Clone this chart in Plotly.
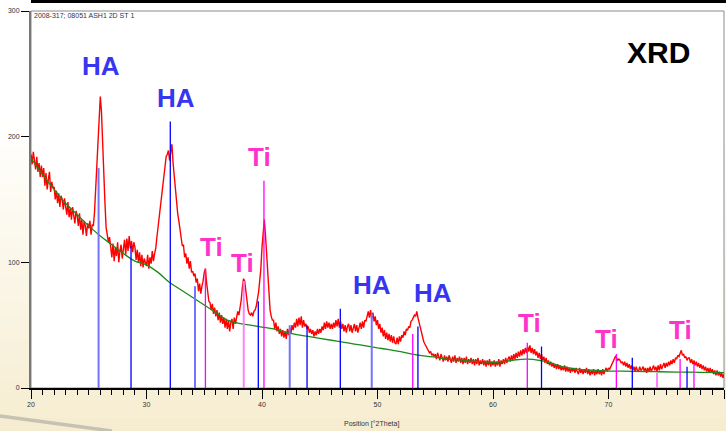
import plotly.graph_objects as go

# ---------------- data ----------------
scan_start = 20.0
scan_step = 0.1
intensity = [
    186, 178, 188, 181, 174, 184, 172, 179, 168, 177,   # 20
    168, 175, 161, 171, 158, 166, 172, 156, 164, 159,   # 21
    160, 150, 157, 147, 155, 144, 153, 150, 142, 151,   # 22
    146, 138, 148, 136, 143, 134, 144, 139, 131, 141,   # 23
    137, 129, 139, 126, 134, 122, 133, 129, 121, 131,   # 24
    127, 133, 122, 130, 129, 140, 160, 178, 197, 215,   # 25
    232, 220, 192, 170, 148, 128, 122, 116, 120, 112,   # 26
    104, 115, 101, 112, 105, 116, 100, 109, 114, 103,   # 27
    110, 118, 106, 119, 109, 121, 111, 117, 108, 116,   # 28
    112, 102, 110, 100, 108, 97, 106, 96, 103, 99,      # 29
    97, 106, 95, 104, 99, 109, 101, 107, 111, 120,      # 30
    128, 135, 144, 150, 158, 166, 176, 184, 186, 189,   # 31
    181, 190, 194, 179, 168, 157, 148, 139, 133, 125,   # 32
    121, 113, 114, 104, 107, 99, 104, 95, 101, 92,      # 33
    93, 89, 91, 84, 87, 77, 83, 75, 81, 85,             # 34
    92, 95, 84, 77, 69, 68, 62, 67, 59, 64,             # 35
    57, 62, 54, 60, 52, 58, 51, 56, 48, 55,             # 36
    47, 54, 45, 52, 55, 47, 56, 51, 58, 61,             # 37
    58, 63, 70, 80, 87, 85, 76, 68, 62, 59,             # 38
    58, 60, 57, 61, 62, 65, 70, 76, 85, 95,             # 39
    112, 126, 134, 122, 105, 86, 71, 62, 57, 54,        # 40
    54, 47, 52, 45, 49, 43, 47, 41, 46, 40,             # 41
    45, 39, 47, 42, 48, 43, 50, 46, 52, 48,             # 42
    55, 49, 56, 50, 57, 48, 54, 49, 51, 47,             # 43
    49, 44, 47, 43, 46, 41, 45, 42, 47, 43,             # 44
    47, 44, 49, 46, 52, 47, 53, 48, 52, 47,             # 45
    51, 47, 52, 48, 54, 49, 55, 48, 53, 47,             # 46
    51, 45, 50, 44, 49, 51, 45, 50, 44, 49,             # 47
    51, 45, 50, 44, 49, 52, 47, 53, 48, 54,             # 48
    53, 58, 61, 56, 62, 55, 60, 53, 57, 50,             # 49
    54, 47, 51, 44, 48, 41, 46, 39, 44, 38,             # 50
    43, 37, 42, 36, 41, 36, 35, 40, 35, 41,             # 51
    37, 42, 40, 45, 42, 47, 46, 49, 48, 53,             # 52
    54, 56, 58, 57, 61, 56, 52, 48, 44, 40,             # 53
    37, 35, 33, 31, 30, 28, 29, 26, 27, 25,             # 54
    27, 23, 28, 24, 22, 27, 23, 21, 26, 22,             # 55
    25, 21, 26, 22, 20, 25, 21, 26, 20, 24,             # 56
    21, 25, 20, 24, 19, 24, 20, 25, 19, 23,             # 57
    20, 24, 19, 23, 18, 23, 19, 24, 18, 22,             # 58
    19, 23, 18, 22, 17, 22, 18, 23, 17, 21,             # 59
    18, 22, 17, 21, 18, 23, 17, 22, 19, 23,             # 60
    19, 24, 20, 23, 25, 21, 26, 22, 27, 23,             # 61
    28, 24, 29, 25, 30, 26, 31, 27, 32, 28,             # 62
    33, 29, 34, 28, 32, 27, 31, 26, 29, 24,             # 63
    28, 23, 27, 22, 25, 20, 24, 19, 22, 18,             # 64
    21, 17, 20, 16, 19, 15, 19, 15, 18, 14,             # 65
    17, 14, 18, 13, 17, 13, 16, 12, 16, 13,             # 66
    16, 12, 16, 13, 11, 16, 12, 15, 11, 15,             # 67
    12, 16, 11, 15, 10, 14, 11, 15, 10, 14,             # 68
    11, 15, 11, 14, 10, 15, 11, 14, 16, 13,             # 69
    16, 15, 17, 19, 21, 23, 25, 24, 22, 23,             # 70
    22, 20, 21, 18, 21, 17, 20, 16, 19, 15,             # 71
    18, 14, 17, 13, 17, 14, 13, 17, 14, 15,             # 72
    17, 13, 16, 12, 16, 13, 17, 13, 16, 18,             # 73
    14, 17, 13, 18, 14, 19, 15, 18, 20, 16,             # 74
    20, 17, 21, 18, 22, 19, 23, 20, 24, 23,             # 75
    26, 25, 28, 30, 26, 27, 24, 25, 22, 24,             # 76
    24, 20, 23, 19, 22, 18, 21, 17, 20, 16,             # 77
    19, 15, 18, 14, 17, 13, 16, 12, 16, 12,             # 78
    15, 11, 14, 10, 14, 10, 13, 9, 12, 8,               # 79
    11,                                                 # 80
]
two_theta = [round(scan_start + i * scan_step, 2) for i in range(len(intensity))]

bg_x = [20, 21, 22, 23, 24, 25, 26, 27, 28, 29, 30, 31, 32, 33, 34, 35, 36, 37, 38, 39,
        40, 41, 42, 43, 44, 45, 46, 47, 48, 49, 50, 51, 52, 53, 54, 55, 56, 57, 58, 59,
        60, 61, 62, 63, 64, 65, 66, 67, 68, 69, 70, 72, 74, 76, 78, 80]
bg_y = [183, 170, 158, 147, 138, 129, 121, 114, 107, 101, 98, 92, 84, 78, 72, 66, 60, 54, 51.5, 50,
        48.5, 47, 44.5, 42.5, 41, 39.5, 38, 36.5, 35, 33.5, 32, 30.5, 29, 27, 25.5, 24.5, 23, 22.5, 21.5, 21,
        20.5, 21, 22.5, 23, 22, 20, 17, 15.5, 14.5, 14, 13.5, 13.3, 13, 12.7, 12.5, 12.2]

ha_pos = [25.85, 28.66, 32.06, 34.2, 39.68, 42.4, 43.9, 46.78, 49.5, 53.5, 64.2, 72.06, 76.8]
ha_int = [175, 113, 212, 81, 69, 50, 50, 63, 59, 49, 33, 24, 17]
ha_light = [True, False, False, True, False, True, False, False, True, False, False, False, False]

ti_pos = [35.1, 38.42, 40.17, 53.05, 62.97, 70.68, 74.2, 76.2, 77.4]
ti_int = [95, 85, 165, 43, 36, 27, 12, 23, 19]
ti_light = [False, True, False, False, False, False, True, False, False]

ha_labels = [(26.02, 256), (32.55, 231), (49.55, 82), (54.83, 75.5)]
ti_labels = [(39.74, 184), (35.67, 112), (38.27, 99.5), (63.12, 51.5), (69.83, 39), (76.22, 46)]

FONT = "Arial, 'Liberation Sans', sans-serif"

def sticks(pos, inten, mask, want):
    xs, ys = [], []
    for p, h, m in zip(pos, inten, mask):
        if m == want:
            xs += [p, p, None]
            ys += [0, h, None]
    return xs, ys

fig = go.Figure()
fig.add_trace(go.Scatter(x=two_theta, y=intensity, mode="lines",
                         line=dict(color="#ff0000", width=1.4), hoverinfo="skip"))
fig.add_trace(go.Scatter(x=bg_x, y=bg_y, mode="lines", line_shape="spline",
                         line=dict(color="#1a8a1a", width=1.3), hoverinfo="skip"))
for pos, inten, mask, dark, light in [
    (ha_pos, ha_int, ha_light, "#0000ff", "#7373ff"),
    (ti_pos, ti_int, ti_light, "#ff00ff", "#ff80ff"),
]:
    xs, ys = sticks(pos, inten, mask, False)
    fig.add_trace(go.Scatter(x=xs, y=ys, mode="lines", line=dict(color=dark, width=1.3), hoverinfo="skip"))
    xs, ys = sticks(pos, inten, mask, True)
    fig.add_trace(go.Scatter(x=xs, y=ys, mode="lines", line=dict(color=light, width=2), hoverinfo="skip"))

annotations = []
for x, y in ha_labels:
    annotations.append(dict(x=x, y=y, text="<b>HA</b>", showarrow=False,
                            font=dict(family=FONT, size=26, color="#3636f0")))
for x, y in ti_labels:
    annotations.append(dict(x=x, y=y, text="<b>Ti</b>", showarrow=False,
                            font=dict(family=FONT, size=26, color="#ff33cc")))
annotations.append(dict(x=74.29, y=267, text="<b>XRD</b>", showarrow=False,
                        font=dict(family=FONT, size=30, color="#000000")))
annotations.append(dict(x=0.002, y=0.987, xref="paper", yref="paper", xanchor="left", yanchor="middle",
                        text="2008-317; 08051 ASH1 2D ST 1", showarrow=False,
                        font=dict(family=FONT, size=7, color="#333333")))
annotations.append(dict(x=0.492, y=-0.0955, xref="paper", yref="paper", xanchor="center", yanchor="middle",
                        text="Position [°2Theta]", showarrow=False,
                        font=dict(family=FONT, size=7, color="#333333")))

# background gradient (paper), then white plot area, frame and top bar
shapes = []
W, H, L, R, T, B = 726, 431, 31, 2, 11, 43
pw, ph = W - L - R, H - T - B
def px_to_paper(px, py):
    return (px - L) / pw, (H - B - py) / ph
n_bands = 24
top_py, bot_py = 120, 431
c0 = (255, 255, 255)
c1 = (246, 237, 208)
for i in range(n_bands):
    y_a = top_py + (bot_py - top_py) * i / n_bands
    y_b = top_py + (bot_py - top_py) * (i + 1) / n_bands + 1
    t = (i + 0.5) / n_bands
    col = "rgb(%d,%d,%d)" % tuple(round(a + (b - a) * t) for a, b in zip(c0, c1))
    x0, y0 = px_to_paper(0, y_b)
    x1, y1 = px_to_paper(W, y_a)
    shapes.append(dict(type="rect", xref="paper", yref="paper", x0=x0, x1=x1, y0=y0, y1=y1,
                       fillcolor=col, line=dict(width=0), layer="below"))
# grey swoosh bottom-left
sx0, sy0 = px_to_paper(0, 416)
sx1, sy1 = px_to_paper(60, 424)
sx2, sy2 = px_to_paper(112, 431)
shapes.append(dict(type="path", xref="paper", yref="paper",
                   path="M %f %f Q %f %f %f %f" % (sx0, sy0, sx1, sy1, sx2, sy2),
                   line=dict(color="rgba(150,150,150,0.5)", width=3.5), layer="below"))
shapes.append(dict(type="rect", xref="paper", yref="paper", x0=0, x1=1, y0=0, y1=1,
                   fillcolor="white", line=dict(color="#8a8a8a", width=1), layer="below"))
bx0, by0 = px_to_paper(31, 3)
bx1, by1 = px_to_paper(726, 0)
shapes.append(dict(type="rect", xref="paper", yref="paper", x0=bx0, x1=bx1, y0=by0, y1=by1 + 0.01,
                   fillcolor="black", line=dict(width=0)))

fig.update_layout(
    width=W, height=H,
    margin=dict(l=L, r=R, t=T, b=B),
    paper_bgcolor="white", plot_bgcolor="rgba(0,0,0,0)",
    showlegend=False,
    font=dict(family=FONT, size=7, color="#333333"),
    annotations=annotations, shapes=shapes,
    xaxis=dict(range=[20, 80], tickvals=[20, 30, 40, 50, 60, 70, 80], ticks="outside",
               ticklen=9, tickwidth=1.3, tickcolor="black", showgrid=False, zeroline=False,
               showline=True, linecolor="black", linewidth=1.5,
               tickfont=dict(size=7, color="#333333"),
               minor=dict(dtick=1, ticks="outside", ticklen=5, tickwidth=1.2, tickcolor="black", showgrid=False)),
    yaxis=dict(range=[0, 300], tickvals=[0, 100, 200, 300], ticks="outside", ticklen=8,
               tickwidth=1.3, tickcolor="black", showgrid=False, zeroline=False,
               showline=True, linecolor="#777777", linewidth=2,
               tickfont=dict(size=7, color="#333333")),
)
fig.write_html("out.html")
